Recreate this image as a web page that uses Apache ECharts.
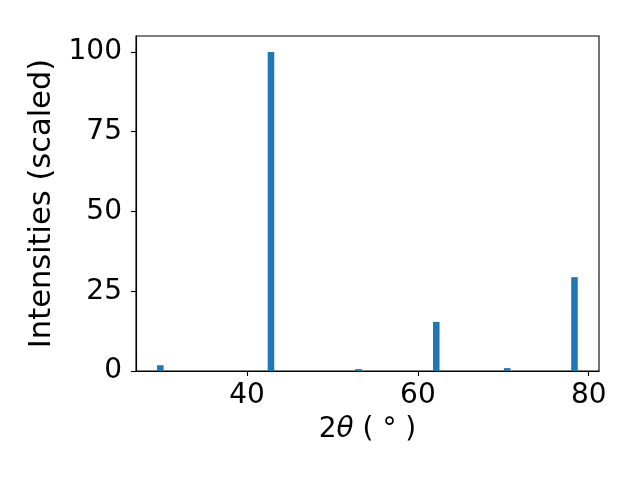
<!DOCTYPE html>
<html><head><meta charset="utf-8">
<script src="https://cdn.jsdelivr.net/npm/echarts@6/dist/echarts.min.js"></script>
<style>html,body{margin:0;padding:0;background:#fff}#c{width:640px;height:480px}</style>
</head><body><div id="c"></div>
<script>
const positions = [29.85, 42.8, 53.05, 62.15, 70.45, 78.33];
const intensities = [1.8, 100, 0.6, 15.4, 0.9, 29.4];
const xTicks = [40, 60, 80];
const yTicks = [0, 25, 50, 75, 100];
const barWidthDeg = 0.77;

const chart = echarts.init(document.getElementById('c'), null, {renderer: 'canvas'});
const font = 'DejaVu Sans';
const axisCommon = {
  axisLine: {show: true, onZero: false, lineStyle: {color: '#000', width: 1.1}},
  splitLine: {show: false},
};
chart.setOption({
  animation: false,
  backgroundColor: '#fff',
  grid: {left: 136, right: 41, top: 36, bottom: 109, show: true, borderColor: '#000', borderWidth: 1.1, backgroundColor: 'transparent'},
  xAxis: Object.assign({}, axisCommon, {
    type: 'value', min: 27.0, max: 81.2,
    axisTick: {show: true, inside: false, length: 5, lineStyle: {color: '#000', width: 1.1}, customValues: xTicks},
    axisLabel: {customValues: xTicks, color: '#000', fontSize: 28, fontFamily: font, margin: 11},
    name: '2{it|θ} ( ° )', nameLocation: 'middle', nameGap: 45,
    nameTextStyle: {color: '#000', fontSize: 28, fontFamily: font,
      rich: {it: {fontStyle: 'italic', fontSize: 28, fontFamily: font, color: '#000'}}}
  }),
  yAxis: Object.assign({}, axisCommon, {
    type: 'value', min: 0, max: 105,
    axisTick: {show: true, inside: false, length: 5, lineStyle: {color: '#000', width: 1.1}, customValues: yTicks},
    axisLabel: {customValues: yTicks, color: '#000', fontSize: 28, fontFamily: font, margin: 14},
    name: 'Intensities (scaled)', nameLocation: 'middle', nameGap: 70,
    nameTextStyle: {color: '#000', fontSize: 30.5, fontFamily: font}
  }),
  series: [{
    type: 'custom',
    data: positions.map((p, i) => [p, intensities[i]]),
    renderItem: function (params, api) {
      const x = api.value(0), y = api.value(1);
      const top = api.coord([x, y]);
      const bottom = api.coord([x, 0]);
      const w = api.size([barWidthDeg, 0])[0];
      return {
        type: 'rect',
        shape: {x: top[0] - w / 2, y: top[1], width: w, height: bottom[1] - top[1]},
        style: {fill: '#1f77b4'}
      };
    }
  }]
});
</script></body></html>
